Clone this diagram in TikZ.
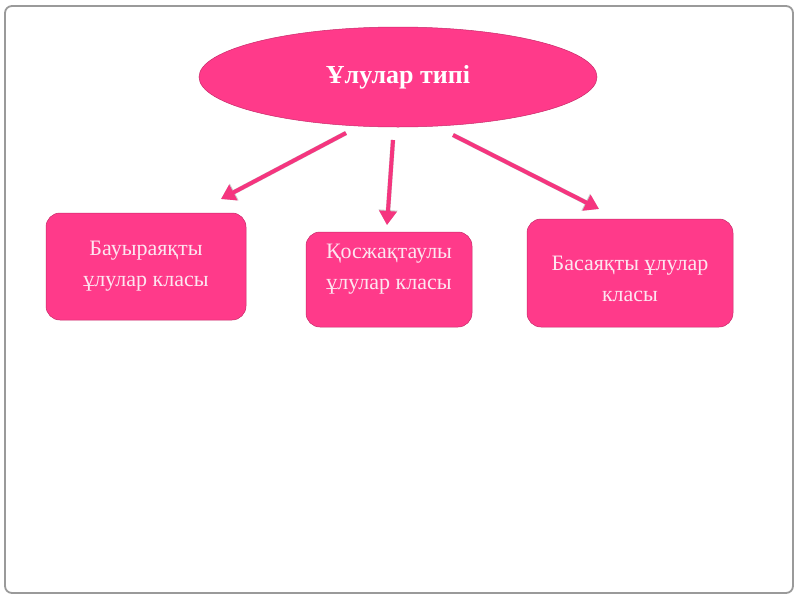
\documentclass[tikz,border=0pt]{standalone}
\usepackage{fontspec}
\setmainfont{Liberation Serif}
\usetikzlibrary{arrows.meta,shapes.geometric}
\definecolor{pinkfill}{HTML}{FF3A8A}
\definecolor{pinkedge}{HTML}{C82A6A}
\definecolor{arrowpink}{HTML}{F5357F}
\definecolor{lighttext}{HTML}{FDE6F0}
\definecolor{framegray}{HTML}{9A9A9A}
\begin{document}
\begin{tikzpicture}[x=1pt,y=-1pt,
  frame/.style={draw=framegray,line width=1.8pt,rounded corners=7pt},
  topnode/.style={ellipse,fill=pinkfill,draw=pinkedge,line width=0.5pt,inner sep=0pt},
  toptext/.style={text=white,font=\bfseries\fontsize{26}{30}\selectfont,inner sep=0pt},
  classbox/.style={draw=pinkedge,line width=0.5pt,fill=pinkfill,rounded corners=14pt,inner sep=0pt},
  classtext/.style={text=lighttext,font=\fontsize{22}{31}\selectfont,align=center,inner sep=0pt},
  conn/.style={draw=arrowpink,line width=4pt,-{Triangle[width=17pt,length=14pt]}},
  connshadow/.style={draw=black!45,opacity=0.45,line width=4.5pt,-{Triangle[width=18pt,length=15pt]}}
]
\useasboundingbox (0,0) rectangle (800,600);
\fill[white] (0,0) rectangle (800,600);
\draw[frame] (5,6) rectangle (793,593);

\node[topnode,minimum width=398pt,minimum height=100pt] (top) at (398,77) {};
\node[toptext] (toplabel) at (top.center) {Ұлулар типі};

\node[classbox,minimum width=200pt,minimum height=107pt] (left) at (146,266.5) {};
\node[classtext] (lefttext) at (146,266) {Бауыраяқты\\ұлулар класы};
\node[classbox,minimum width=166pt,minimum height=95pt] (mid) at (389,279.5) {};
\node[classtext] (midtext) at (389,269) {Қосжақтаулы\\ұлулар класы};
\node[classbox,minimum width=206pt,minimum height=108pt] (right) at (630,273) {};
\node[classtext] (righttext) at (630,279) {Басаяқты ұлулар\\класы};

\coordinate (a1s) at (346,133);
\coordinate (a1e) at (221,199);
\coordinate (a2s) at (393,140);
\coordinate (a2e) at (387,225);
\coordinate (a3s) at (453,135);
\coordinate (a3e) at (599,209);

\begin{scope}[shift={(3,3)}]
\draw[connshadow] (a1s) -- (a1e);
\draw[connshadow] (a2s) -- (a2e);
\draw[connshadow] (a3s) -- (a3e);
\end{scope}
\draw[conn] (a1s) -- (a1e);
\draw[conn] (a2s) -- (a2e);
\draw[conn] (a3s) -- (a3e);
\end{tikzpicture}
\end{document}
